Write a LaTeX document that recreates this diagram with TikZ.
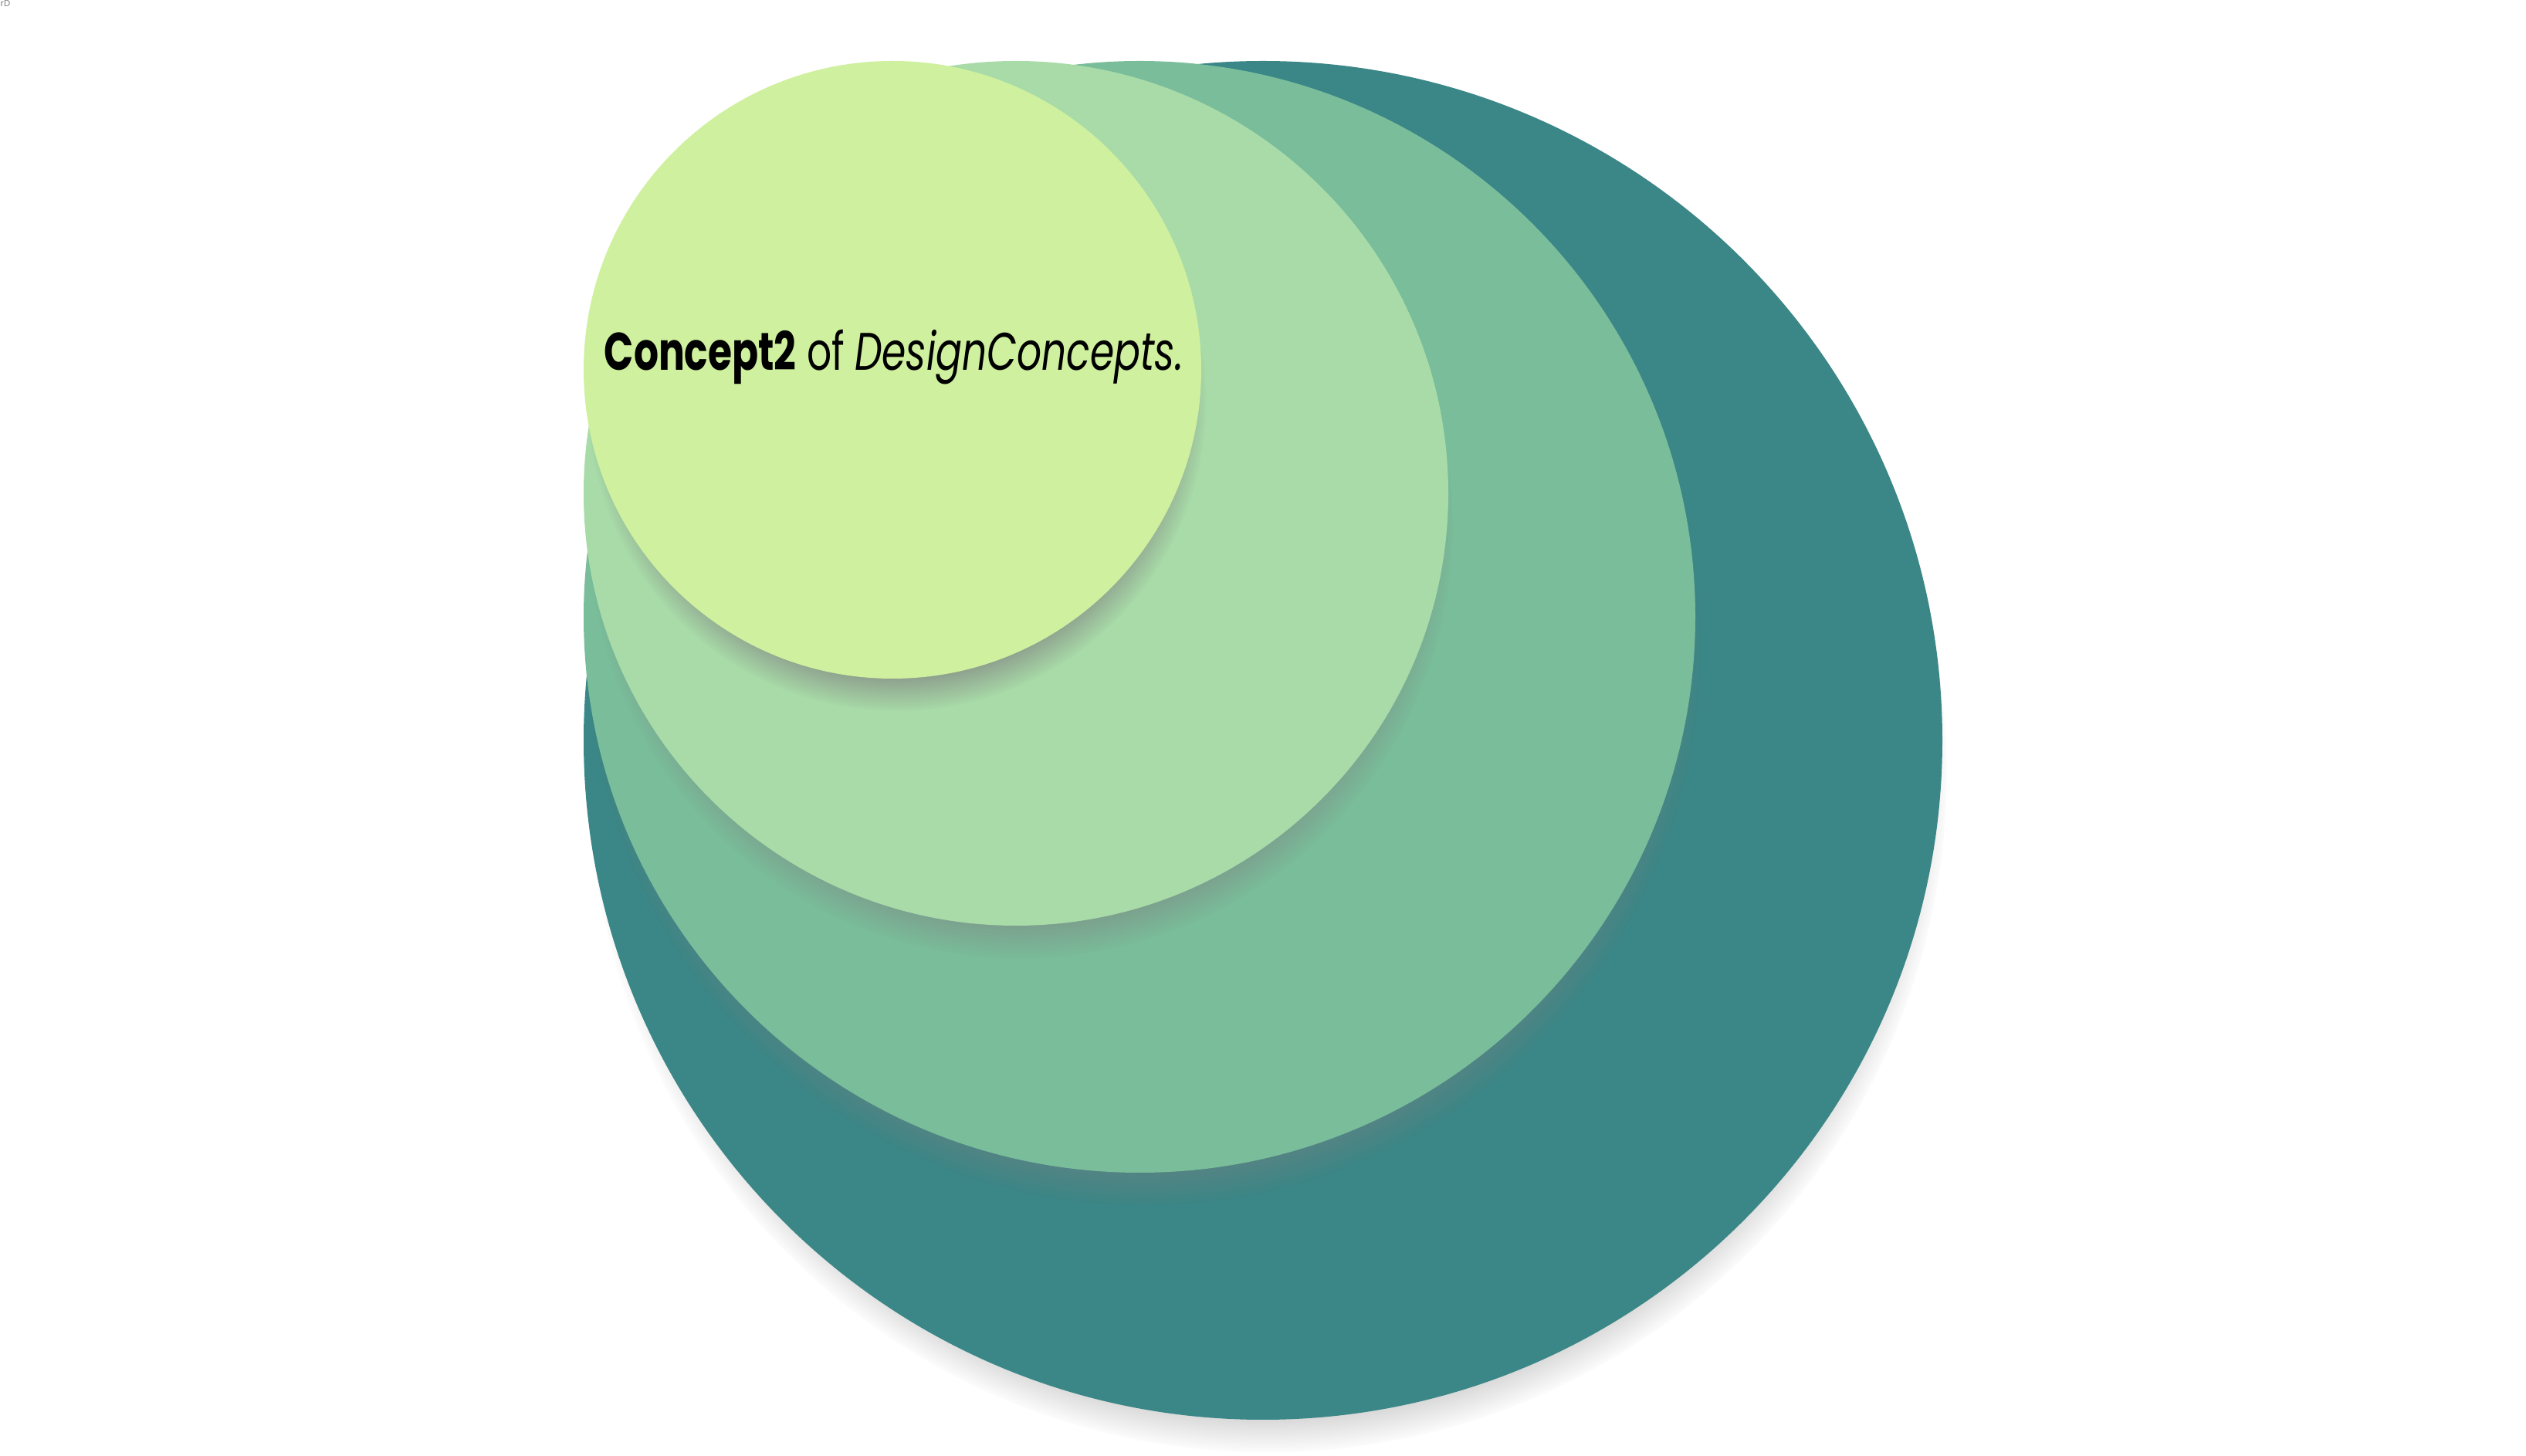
\documentclass[tikz,border=0pt]{standalone}
\usepackage{fontspec}
\setmainfont{Poppins}
\usepackage{graphicx}
\usepackage{xcolor}
\usetikzlibrary{shadows}
\definecolor{mylime}{HTML}{CFF09E}
\definecolor{mymint}{HTML}{A8DBA8}
\definecolor{mygreen}{HTML}{79BD9A}
\definecolor{myteal}{HTML}{3B8686}

\begin{document}
\begin{tikzpicture}
  \def\W{32.72}
  \def\H{18.86}
  \def\x{7.56}
  \def\y{-0.79}

  \useasboundingbox (0,0) rectangle (\W,-\H);
  \fill[white] (0,0) rectangle (\W,-\H);

  %Stray tag in the corner
  \node[anchor=north west, inner sep=0, text=gray, font=\fontsize{3.3}{4}\selectfont] (tag) at (0,0) {rD};

  %Circles, biggest first, all touching at the left and at the top
  \foreach \r/\col [count=\i] in {8.8/myteal, 7.2/mygreen, 5.6/mymint, 4.0/mylime}
  {
    \node[circle, fill=\col, inner sep=0, minimum size=2*\r cm,
      circular drop shadow={shadow scale=1.0, shadow xshift=0.06cm, shadow yshift=-0.42cm, opacity=0.85}]
      (c\i) at (\x+\r,\y-\r) {};
  }

  %Label in the smallest circle
  \node[anchor=base west, inner sep=0, font=\fontsize{19.5}{22}\selectfont] (lbl) at (7.82,-4.8)
    {\resizebox{7.5cm}{\height}{\textbf{Concept2} of \textit{DesignConcepts.}}};
\end{tikzpicture}
\end{document}
